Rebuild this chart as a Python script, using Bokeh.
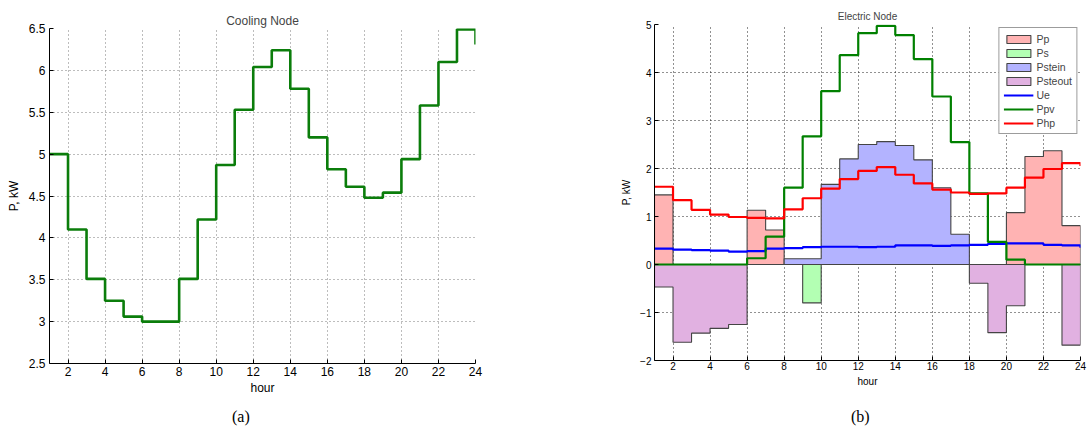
from bokeh.plotting import figure
from bokeh.layouts import row, column
from bokeh.models import Legend, LegendItem, FixedTicker, Range1d, Div
from bokeh.embed import file_html
from bokeh.resources import INLINE

# ---------------- data ----------------
hours = list(range(1, 25))

# (a) cooling node demand, kW
cooling_kw = [5.0, 4.1, 3.51, 3.25, 3.06, 3.0, 3.0, 3.51, 4.22, 4.87, 5.53, 6.04,
              6.24, 5.78, 5.2, 4.82, 4.61, 4.48, 4.54, 4.94, 5.58, 6.1, 6.49, 6.31]

# (b) electric node, kW
pp = [1.45, 0, 0, 0, 0, 1.13, 0.72, 0, 0, 0, 0, 0,
      0, 0, 0, 0, 0, 0, 0, 1.08, 2.25, 2.37, 0.81, 0.81]
ps = [0, 0, 0, 0, 0, 0, 0, 0, -0.8, 0, 0, 0,
      0, 0, 0, 0, 0, 0, 0, 0, 0, 0, 0, 0]
pstein = [0, 0, 0, 0, 0, 0, 0, 0.12, 0.12, 1.67, 2.2, 2.5,
          2.56, 2.48, 2.18, 1.6, 0.63, 0, 0, 0, 0, 0, 0, 0]
psteout = [-0.47, -1.62, -1.43, -1.33, -1.25, 0, 0, 0, 0, 0, 0, 0,
           0, 0, 0, 0, 0, -0.39, -1.42, -0.86, 0, 0, -1.68, -1.68]
ue = [0.33, 0.31, 0.30, 0.29, 0.27, 0.28, 0.33, 0.34, 0.36, 0.37, 0.37, 0.36,
      0.37, 0.40, 0.40, 0.39, 0.40, 0.41, 0.43, 0.44, 0.44, 0.41, 0.40, 0.35]
ppv = [0, 0, 0, 0, 0, 0.13, 0.58, 1.6, 2.67, 3.61, 4.36, 4.82,
       4.97, 4.78, 4.28, 3.5, 2.55, 1.48, 0.47, 0.1, 0, 0, 0, 0]
php = [1.62, 1.34, 1.14, 1.04, 0.99, 0.97, 0.96, 1.15, 1.38, 1.58, 1.78, 1.95,
       2.03, 1.87, 1.69, 1.56, 1.5, 1.47, 1.48, 1.6, 1.81, 1.99, 2.11, 2.05]

x_ticks = list(range(2, 25, 2))
y_ticks_a = [2.5, 3, 3.5, 4, 4.5, 5, 5.5, 6, 6.5]
y_ticks_b = [-2, -1, 0, 1, 2, 3, 4, 5]

area_series = [("Pp", pp, "#ffb3b3"), ("Ps", ps, "#b3ffb3"),
               ("Pstein", pstein, "#b3b3ff"), ("Psteout", psteout, "#e1b1e1")]
line_series = [("Ue", ue, "#0000ff"), ("Ppv", ppv, "#008000"), ("Php", php, "#ff0000")]


def stair_polygon(xs, vs):
    """Closed outline of a stairs curve down to zero."""
    px, py = [xs[0]], [0.0]
    for i, v in enumerate(vs):
        if i:
            px.append(xs[i])
            py.append(vs[i - 1])
        px.append(xs[i])
        py.append(v)
    px.append(xs[-1])
    py.append(0.0)
    return px, py


def style(p, font, fsize, grid_color, title_size, title_standoff):
    p.outline_line_color = None
    p.title.align = "center"
    p.title.text_font = font
    p.title.text_font_style = "normal"
    p.title.text_font_size = title_size
    p.title.standoff = title_standoff
    for ax in (p.xaxis[0], p.yaxis[0]):
        ax.major_tick_in = 4
        ax.major_tick_out = 0
        ax.minor_tick_line_color = None
        ax.axis_line_color = "black"
        ax.axis_line_width = 1
        ax.major_tick_line_color = "black"
        ax.major_label_text_font = font
        ax.major_label_text_font_size = fsize
        ax.major_label_text_color = "black"
        ax.axis_label_text_font = font
        ax.axis_label_text_font_size = fsize
        ax.axis_label_text_font_style = "normal"
        ax.axis_label_text_color = "black"
    for g in (p.xgrid[0], p.ygrid[0]):
        g.grid_line_color = grid_color
        g.grid_line_dash = "1 3"
        g.grid_line_width = 1


def caption(text, width, pad_left):
    return Div(text=f'<div style="font-family:\'Liberation Serif\';font-size:16px;'
                    f'line-height:19px;padding-top:7px;padding-left:{pad_left}px;'
                    f'color:black">{text}</div>',
               width=width, height=28, margin=0)


# ---------------- (a) Cooling Node ----------------
pa = figure(width=560, height=400, x_range=Range1d(1, 24), y_range=Range1d(2.5, 6.5),
            title="Cooling Node", output_backend="svg", toolbar_location=None,
            min_border_left=49, min_border_right=85, min_border_top=28, min_border_bottom=37)
pa.step(hours, cooling_kw, mode="after", line_color="#0b7d0b", line_width=2.6)
style(pa, "Liberation Sans", "12px", "#7a7a7a", "12px", 2)
pa.xaxis.ticker = FixedTicker(ticks=x_ticks)
pa.yaxis.ticker = FixedTicker(ticks=y_ticks_a)
pa.yaxis.major_label_overrides = {t: f"{t:g}" for t in y_ticks_a}
pa.xaxis.axis_label = "hour"
pa.yaxis.axis_label = "P, kW"
pa.xaxis.major_label_standoff = 3
pa.xaxis.axis_label_standoff = 2
pa.yaxis.major_label_standoff = 4

# ---------------- (b) Electric Node ----------------
pb = figure(width=528, height=400, x_range=Range1d(1, 24), y_range=Range1d(-2, 5),
            title="Electric Node", output_backend="svg", toolbar_location=None,
            min_border_left=94, min_border_right=8, min_border_top=24, min_border_bottom=40)
style(pb, "Liberation Sans", "10px", "#222222", "10px", 5)
pb.xaxis.ticker = FixedTicker(ticks=x_ticks)
pb.yaxis.ticker = FixedTicker(ticks=y_ticks_b)
pb.xaxis.axis_label = "hour"
pb.yaxis.axis_label = "P, kW"
pb.xaxis.major_label_standoff = 1
pb.xaxis.axis_label_standoff = 3
pb.yaxis.major_label_standoff = 3

items = []
for name, vals, color in area_series:
    px, py = stair_polygon(hours, vals)
    r = pb.patch(px, py, fill_color=color, line_color="#444444", line_width=1.1)
    items.append(LegendItem(label=name, renderers=[r]))
for name, vals, color in line_series:
    r = pb.step(hours, vals, mode="after", line_color=color, line_width=2.2)
    items.append(LegendItem(label=name, renderers=[r]))

legend = Legend(items=items, location="top_right", margin=3, padding=4, spacing=1,
                glyph_width=30, glyph_height=10, label_height=13, label_standoff=3,
                label_text_font="Liberation Sans", label_text_font_size="10.5px",
                border_line_color="#3a3a3a", border_line_width=1.5,
                background_fill_color="white", background_fill_alpha=1)
pb.add_layout(legend)

layout = column(row(column(pa), column(pb)),
                row(caption("(a)", 560, 232), caption("(b)", 528, 291)))
open("out.html", "w").write(file_html(layout, INLINE))
